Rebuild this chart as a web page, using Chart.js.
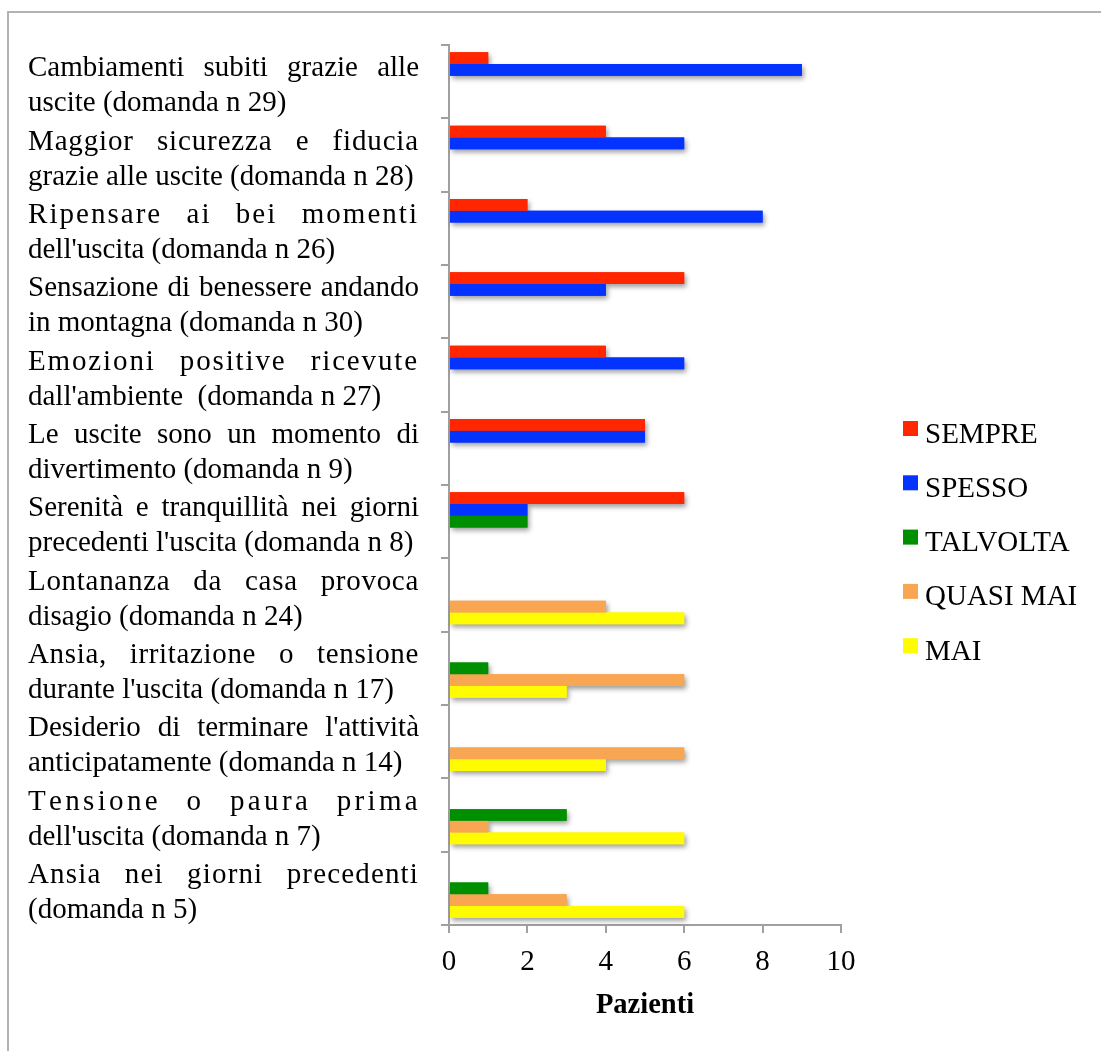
<!DOCTYPE html>
<html>
<head>
<meta charset="utf-8">
<script src="https://cdn.jsdelivr.net/npm/chart.js@4/dist/chart.umd.min.js"></script>
<style>
  html, body { margin: 0; padding: 0; background: #fff; }
  #wrap { position: relative; width: 1101px; height: 1051px; overflow: hidden; }
  #wrap canvas { position: absolute; left: 0; top: 0; }
  #frame {
    position: absolute; left: 7px; top: 11px; width: 1200px; height: 1200px;
    border-left: 2px solid #b3b3b3; border-top: 2px solid #b3b3b3;
    pointer-events: none;
  }
</style>
</head>
<body>
<div id="wrap">
  <canvas id="chart" width="1101" height="1051"></canvas>
  <div id="frame"></div>
</div>
<script>
// Questions (two text lines each), top to bottom
const categories = [
  ['Cambiamenti subiti grazie alle', 'uscite (domanda n 29)'],
  ['Maggior sicurezza e fiducia', 'grazie alle uscite (domanda n 28)'],
  ['Ripensare ai bei momenti', "dell'uscita (domanda n 26)"],
  ['Sensazione di benessere andando', 'in montagna (domanda n 30)'],
  ['Emozioni positive ricevute', "dall'ambiente  (domanda n 27)"],
  ['Le uscite sono un momento di', 'divertimento (domanda n 9)'],
  ['Serenità e tranquillità nei giorni', "precedenti l'uscita (domanda n 8)"],
  ['Lontananza da casa provoca', 'disagio (domanda n 24)'],
  ['Ansia, irritazione o tensione', "durante l'uscita (domanda n 17)"],
  ["Desiderio di terminare l'attività", 'anticipatamente (domanda n 14)'],
  ['Tensione o paura prima', "dell'uscita (domanda n 7)"],
  ['Ansia nei giorni precedenti', '(domanda n 5)']
];

const seriesNames = ['SEMPRE', 'SPESSO', 'TALVOLTA', 'QUASI MAI', 'MAI'];
const sempre   = [1, 4, 2, 6, 4, 5, 6, 0, 0, 0, 0, 0];
const spesso   = [9, 6, 8, 4, 6, 5, 2, 0, 0, 0, 0, 0];
const talvolta = [0, 0, 0, 0, 0, 0, 2, 0, 1, 0, 3, 1];
const quasiMai = [0, 0, 0, 0, 0, 0, 0, 4, 6, 6, 1, 3];
const mai      = [0, 0, 0, 0, 0, 0, 0, 6, 3, 4, 6, 6];

const xTicks = [0, 2, 4, 6, 8, 10];
const axisTitle = 'Pazienti';

const seriesColors = ['#ff2600', '#0433ff', '#008f00', '#f9a653', '#fffb00'];
const seriesValues = [sempre, spesso, talvolta, quasiMai, mai];

const FONT = 'Liberation Serif, "Times New Roman", serif';
const AXIS_GREY = '#a0a0a0';

// Draw a shadow pass of every bar before the bars themselves
const barShadow = {
  id: 'barShadow',
  beforeDatasetsDraw(chart) {
    const ctx = chart.ctx;
    ctx.save();
    ctx.shadowColor = 'rgba(0,0,0,0.38)';
    ctx.shadowBlur = 5;
    ctx.shadowOffsetX = 2;
    ctx.shadowOffsetY = 3;
    chart.getSortedVisibleDatasetMetas().forEach(meta => {
      meta.data.forEach(el => {
        if (Math.abs(el.x - el.base) < 0.5) return;
        el.draw(ctx);
      });
    });
    ctx.restore();
  }
};

// Justified question text left of the category axis:
// word gaps grow first, the remainder is spread over the letters
function drawJustified(ctx, text, x0, x1, y) {
  const natural = ctx.measureText(text).width;
  const gaps = text.split(' ').length - 1;
  const extra = x1 - x0 - natural;
  const capPerGap = 15;
  const wordAdd = gaps ? Math.min(extra / gaps, capPerGap) : 0;
  const rest = extra - wordAdd * gaps;
  const charAdd = rest > 0 ? rest / text.length : 0;
  let x = x0;
  for (const ch of text) {
    ctx.fillText(ch, x, y);
    x += ctx.measureText(ch).width + charAdd + (ch === ' ' ? wordAdd : 0);
  }
}

const questionLabels = {
  id: 'questionLabels',
  afterDraw(chart) {
    const ctx = chart.ctx;
    const yScale = chart.scales.y;
    ctx.save();
    ctx.fillStyle = '#000';
    ctx.font = '29px ' + FONT;
    ctx.textAlign = 'left';
    ctx.textBaseline = 'alphabetic';
    categories.forEach((lines, i) => {
      const cy = yScale.getPixelForValue(i);
      drawJustified(ctx, lines[0], 28, 419, cy - 5.3);
      ctx.fillText(lines[1], 28, cy + 29.7);
    });
    ctx.restore();
  }
};

const sideLegend = {
  id: 'sideLegend',
  afterDraw(chart) {
    const ctx = chart.ctx;
    ctx.save();
    ctx.font = '29px ' + FONT;
    ctx.textAlign = 'left';
    ctx.textBaseline = 'alphabetic';
    chart.data.datasets.forEach((ds, i) => {
      const top = 421 + i * 54.3;
      ctx.fillStyle = ds.backgroundColor;
      ctx.fillRect(903, top, 15, 15);
      ctx.fillStyle = '#000';
      ctx.fillText(ds.label, 925, top + 21.5);
    });
    ctx.restore();
  }
};

new Chart(document.getElementById('chart'), {
  type: 'bar',
  data: {
    labels: categories.map(l => l.join(' ')),
    datasets: seriesNames.map((name, i) => ({
      label: name,
      data: seriesValues[i],
      backgroundColor: seriesColors[i],
      borderWidth: 0,
      barPercentage: 1.0,
      categoryPercentage: 0.8
    }))
  },
  options: {
    indexAxis: 'y',
    responsive: false,
    devicePixelRatio: 1,
    animation: false,
    layout: { padding: { top: 45, right: 260, left: 0, bottom: 0 } },
    plugins: {
      legend: { display: false },
      tooltip: { enabled: false }
    },
    scales: {
      x: {
        type: 'linear',
        min: 0,
        max: 10,
        afterBuildTicks: s => { s.ticks = xTicks.map(v => ({ value: v })); },
        afterFit: s => { s.height = 126; },
        ticks: { color: '#000', font: { family: FONT, size: 29 }, padding: 12, maxRotation: 0 },
        grid: { drawOnChartArea: false, drawTicks: true, tickLength: 8, color: AXIS_GREY, lineWidth: 2 },
        border: { display: true, color: AXIS_GREY, width: 2 },
        title: {
          display: true,
          text: axisTitle,
          color: '#000',
          font: { family: FONT, size: 28.5, weight: 'bold' },
          padding: { top: 0, bottom: 28 }
        }
      },
      y: {
        type: 'category',
        afterFit: s => { s.width = 449; },
        ticks: { display: false },
        grid: { offset: true, drawOnChartArea: false, drawTicks: true, tickLength: 8, color: AXIS_GREY, lineWidth: 2 },
        border: { display: true, color: AXIS_GREY, width: 2 }
      }
    }
  },
  plugins: [barShadow, questionLabels, sideLegend]
});
</script>
</body>
</html>
